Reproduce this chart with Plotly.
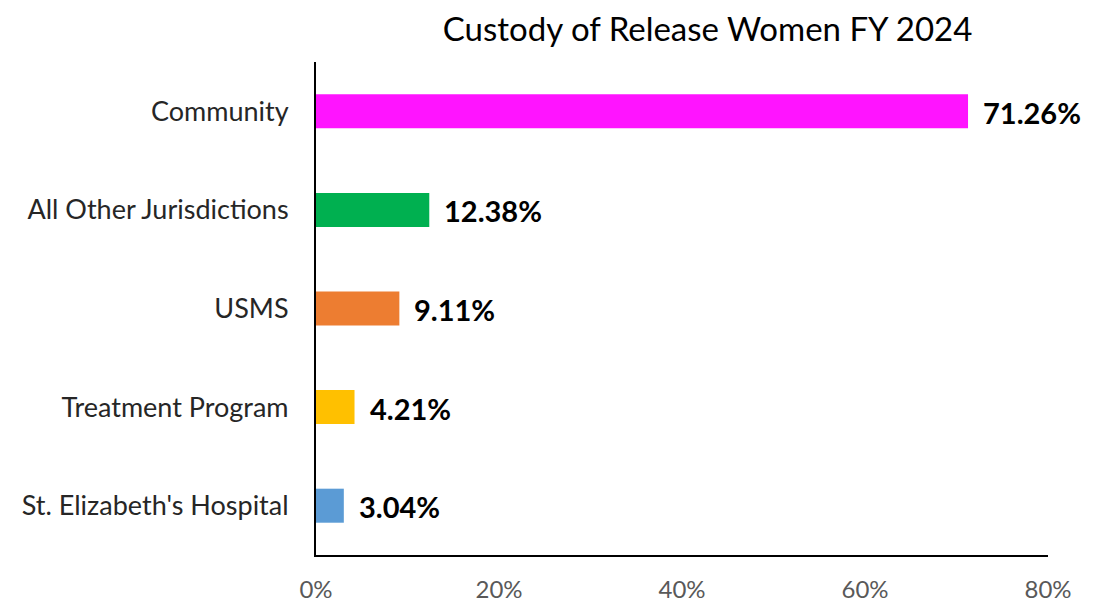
import plotly.graph_objects as go

categories = ["St. Elizabeth's Hospital", 'Treatment Program', 'USMS',
              'All Other Jurisdictions', 'Community']
shares = [3.04, 4.21, 9.11, 12.38, 71.26]
bar_colors = ['#5B9BD5', '#FFC000', '#ED7D31', '#00B050', '#FF14FF']
tick_vals = [0, 20, 40, 60, 80]
tick_text = ['0%', '20%', '40%', '60%', '80%']

font_name = 'Lato'

fig = go.Figure(
    go.Bar(
        x=shares, y=categories, orientation='h',
        marker=dict(color=bar_colors, line=dict(width=0)),
        width=0.345,
        hoverinfo='skip',
    )
)

# value labels to the right of each bar
for cat, val in zip(categories, shares):
    fig.add_annotation(
        x=val, y=cat, text='<b>%.2f%%</b>' % val,
        xanchor='left', yanchor='middle', showarrow=False,
        xshift=13, yshift=-1,
        font=dict(family=font_name, size=29, color='#000000'),
    )

# page body adds an 8px offset, so the figure is a bit smaller than the window
fig.update_layout(
    width=1107, height=597,
    paper_bgcolor='white', plot_bgcolor='white',
    margin=dict(l=308, r=67, t=54, b=50, autoexpand=False),
    showlegend=False,
    title=dict(text='Custody of Release Women FY 2024', x=0.632, xanchor='center',
               y=0.9648, yanchor='middle', automargin=False,
               font=dict(family=font_name, size=33, color='#000000')),
    xaxis=dict(range=[0, 80], tickvals=tick_vals, ticktext=tick_text,
               showgrid=False, zeroline=False, showline=True,
               linecolor='#000000', linewidth=1.5, ticks='',
               ticklabelstandoff=12, automargin=False,
               tickfont=dict(family=font_name, size=24, color='#595959')),
    yaxis=dict(showgrid=False, zeroline=False, showline=True,
               linecolor='#000000', linewidth=2, ticks='',
               ticklabelstandoff=20, range=[-0.5, 4.5], automargin=False,
               tickfont=dict(family=font_name, size=27, color='#262626')),
)

fig.write_html('out.html')
